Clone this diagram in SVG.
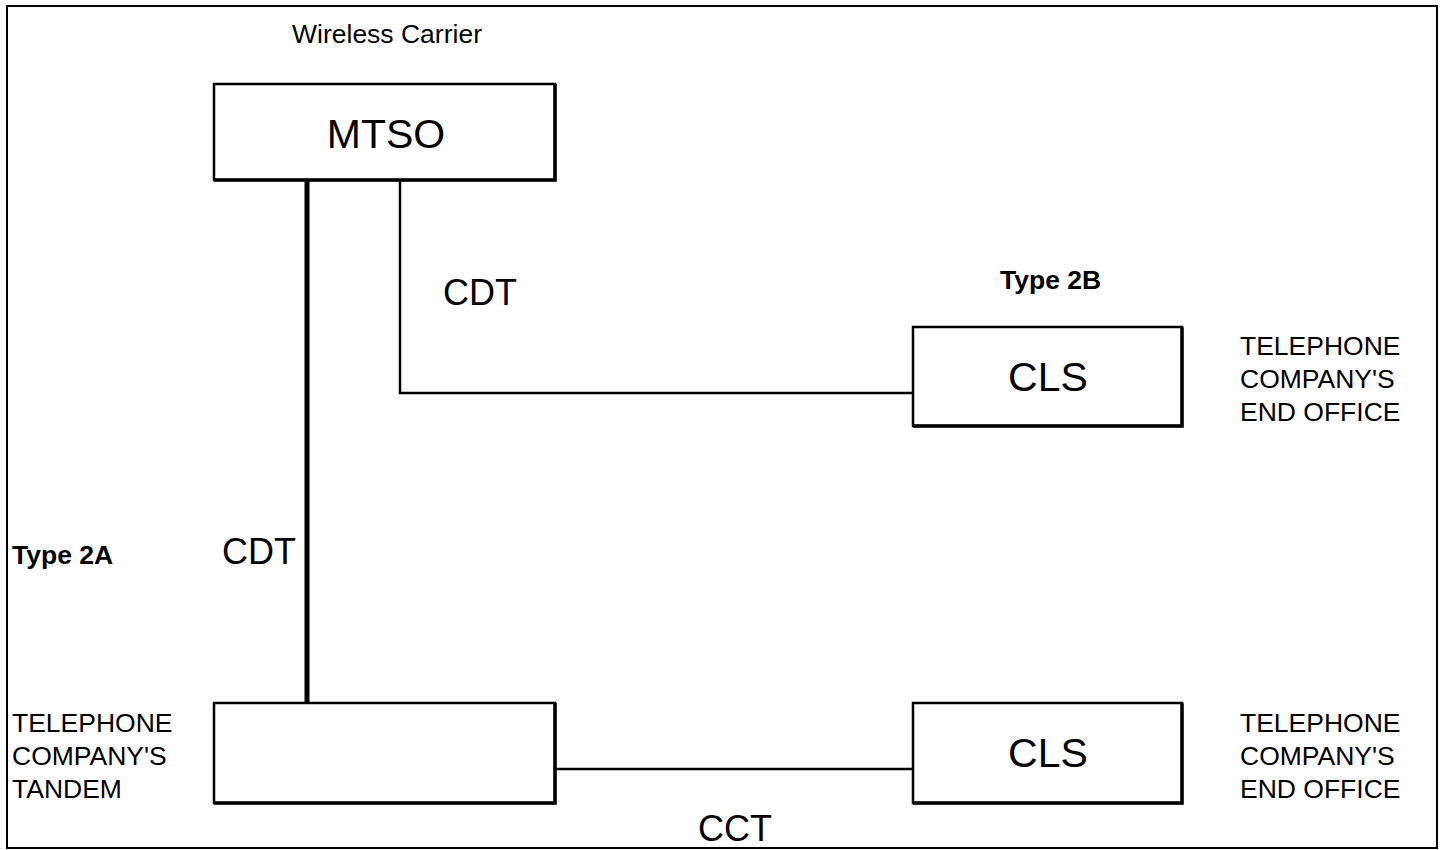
<svg xmlns="http://www.w3.org/2000/svg" width="1442" height="850" viewBox="0 0 1442 850">
<style>
text{font-family:"Liberation Sans",Arial,sans-serif;fill:#000}
.box{fill:#fff;stroke:#000;stroke-width:2.5}
.edge{fill:none;stroke:#000;stroke-width:3.5}
.big{font-size:41px}
.mid{font-size:36px}
.lab{font-size:26.5px}
.bold{font-size:26.5px;font-weight:bold}
</style>
<rect x="0" y="0" width="1442" height="850" fill="#fff"/>
<rect x="7" y="6" width="1430" height="842" fill="none" stroke="#000" stroke-width="2"/>
<g id="connectors" stroke="#000" fill="none">
<line x1="307" y1="180" x2="307" y2="703" stroke-width="5"/>
<polyline points="400,180 400,393 913,393" stroke-width="2.5"/>
<line x1="556" y1="769" x2="913" y2="769" stroke-width="2.5"/>
</g>
<g id="mtso">
<rect class="box" x="214" y="84" width="341" height="96"/>
<polyline class="edge" points="555,84 555,180 214,180"/>
<text class="big" x="386" y="148" text-anchor="middle">MTSO</text>
</g>
<g id="cls-top">
<rect class="box" x="913" y="327" width="269" height="99"/>
<polyline class="edge" points="1182,327 1182,426 913,426"/>
<text class="big" x="1048" y="391" text-anchor="middle">CLS</text>
</g>
<g id="tandem">
<rect class="box" x="214" y="703" width="341" height="100"/>
<polyline class="edge" points="555,703 555,803 214,803"/>
</g>
<g id="cls-bottom">
<rect class="box" x="913" y="703" width="269" height="100"/>
<polyline class="edge" points="1182,703 1182,803 913,803"/>
<text class="big" x="1048" y="767" text-anchor="middle">CLS</text>
</g>
<g id="labels">
<text class="lab" x="387" y="43" text-anchor="middle">Wireless Carrier</text>
<text class="mid" x="443" y="305">CDT</text>
<text class="bold" x="1000" y="289">Type 2B</text>
<text class="lab" x="1240" y="355">TELEPHONE</text>
<text class="lab" x="1240" y="388">COMPANY'S</text>
<text class="lab" x="1240" y="421">END OFFICE</text>
<text class="bold" x="12" y="564">Type 2A</text>
<text class="mid" x="222" y="564">CDT</text>
<text class="lab" x="12" y="732">TELEPHONE</text>
<text class="lab" x="12" y="765">COMPANY'S</text>
<text class="lab" x="12" y="798">TANDEM</text>
<text class="lab" x="1240" y="732">TELEPHONE</text>
<text class="lab" x="1240" y="765">COMPANY'S</text>
<text class="lab" x="1240" y="798">END OFFICE</text>
<text class="mid" x="698" y="841">CCT</text>
</g>
</svg>
